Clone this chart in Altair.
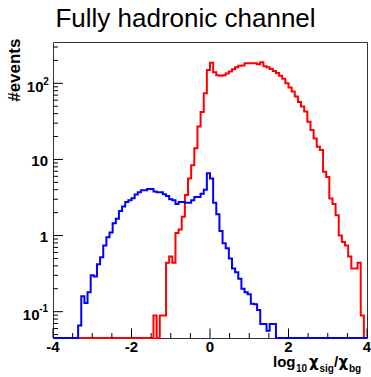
import altair as alt
import numpy as np
import pandas as pd

# ---------------- data ----------------
X_MIN, X_MAX, N_BINS = -4.0, 4.0, 100
Y_MIN, Y_MAX = 0.0451, 349.0

blue_counts = [
    0, 0, 0, 0, 0, 0, 0, 0, 0.066, 0.16,
    0.13, 0.18, 0.30, 0.29, 0.42, 0.52, 0.74, 0.95, 1.1, 1.45,
    1.66, 2.1, 2.4, 2.75, 2.9, 3.1, 3.45, 3.7, 3.95, 3.95,
    4.1, 4.1, 3.8, 3.7, 3.7, 3.5, 3.3, 3.0, 2.9, 2.6,
    2.75, 2.75, 2.7, 2.7, 2.9, 3.2, 3.2, 3.55, 4.0, 6.6,
    5.6, 2.7, 1.9, 1.15, 0.79, 0.68, 0.50, 0.37, 0.33, 0.27,
    0.20, 0.18, 0.17, 0.127, 0.125, 0.105, 0.069, 0.069, 0.056, 0.069,
    0.069, 0, 0, 0, 0, 0, 0, 0, 0, 0,
    0, 0, 0, 0, 0, 0, 0, 0, 0, 0,
    0, 0, 0, 0, 0, 0, 0, 0, 0, 0,
]

red_counts = [
    0, 0, 0, 0, 0, 0, 0, 0, 0, 0,
    0, 0, 0, 0, 0, 0, 0, 0, 0, 0,
    0, 0, 0, 0, 0, 0, 0, 0, 0, 0,
    0, 0, 0.089, 0, 0.089, 0.089, 0.44, 0.53, 0.44, 1.08,
    1.2, 1.76, 3.4, 5.6, 8.4, 14, 27, 42, 74, 150,
    186, 140, 128, 126, 128, 135, 143, 153, 162, 170,
    172, 183, 183, 183, 183, 178, 189, 167, 162, 154,
    145, 137, 126, 115, 100, 88, 78, 67, 57, 49.5,
    42.5, 31.3, 24.3, 18.9, 14.7, 13.3, 6.9, 5.9, 3.07, 2.6,
    1.85, 1.0, 0.82, 0.74, 0.53, 0.37, 0.37, 0.44, 0.089, 0,
]

x_major_ticks = [-4, -2, 0, 2, 4]
x_minor_ticks = [-3.5, -3, -2.5, -1.5, -1, -0.5, 0.5, 1, 1.5, 2.5, 3, 3.5]
x_tick_labels = ["-4", "-2", "0", "2", "4"]

y_major_ticks = [0.1, 1, 10, 100]
y_minor_ticks = [0.05, 0.06, 0.07, 0.08, 0.09,
                 0.2, 0.3, 0.4, 0.5, 0.6, 0.7, 0.8, 0.9,
                 2, 3, 4, 5, 6, 7, 8, 9,
                 20, 30, 40, 50, 60, 70, 80, 90,
                 200, 300]
y_tick_base = ["10", "1", "10", "10"]
y_tick_exp = ["-1", "", "", "2"]

title_text = "Fully hadronic channel"
y_title_text = "#events"

# ---------------- layout ----------------
W, H = 314, 296
PAD = {"left": 53, "top": 42, "right": 4, "bottom": 39}
FONT = "Liberation Sans"
GREEK = "DejaVu Sans"

xscale = alt.Scale(domain=[X_MIN, X_MAX], nice=False, zero=False)
yscale = alt.Scale(type="log", domain=[Y_MIN, Y_MAX], nice=False)

edges = np.round(np.linspace(X_MIN, X_MAX, N_BINS + 1), 4)


def hist_df(counts):
    return pd.DataFrame({"x": edges, "v": list(counts) + [counts[-1]]})


def hist_layer(counts, color):
    return (
        alt.Chart(hist_df(counts))
        .transform_calculate(vp=f"max(datum.v, {Y_MIN})")
        .mark_line(interpolate="step-after", color=color, strokeWidth=2)
        .encode(
            x=alt.X("x:Q", scale=xscale, axis=None),
            y=alt.Y("vp:Q", scale=yscale, axis=None),
        )
    )


def xtick_layer(vals, length):
    return (
        alt.Chart(pd.DataFrame({"t": vals}))
        .mark_rule(color="black", strokeWidth=1)
        .encode(
            x=alt.X("t:Q", scale=xscale, axis=None),
            y=alt.value(H),
            y2=alt.value(H - length),
        )
    )


def ytick_layer(vals, length):
    return (
        alt.Chart(pd.DataFrame({"t": vals}))
        .mark_rule(color="black", strokeWidth=1)
        .encode(
            y=alt.Y("t:Q", scale=yscale, axis=None),
            x=alt.value(0),
            x2=alt.value(length),
        )
    )


def text_layer(txt, x, y, size, weight="bold", align="left", angle=None, font=FONT):
    kw = dict(align=align, baseline="alphabetic", font=font, fontSize=size,
              fontWeight=weight, color="black")
    if angle is not None:
        kw["angle"] = angle
    return (
        alt.Chart(pd.DataFrame({"label": [txt]}))
        .mark_text(**kw)
        .encode(x=alt.value(x), y=alt.value(y), text="label:N")
    )


ylab_df = pd.DataFrame({"v": y_major_ticks, "base": y_tick_base, "exp": y_tick_exp})


def ylab_layer(filt, field, x, dy, size, align):
    return (
        alt.Chart(ylab_df)
        .transform_filter(filt)
        .mark_text(align=align, baseline="alphabetic", dy=dy, font=FONT,
                   fontSize=size, fontWeight="bold", color="black")
        .encode(y=alt.Y("v:Q", scale=yscale, axis=None), x=alt.value(x),
                text=f"{field}:N")
    )


ylabels = [
    ylab_layer("datum.exp == ''", "base", -5, 6.3, 15, "right"),
    ylab_layer("datum.exp == '2'", "base", -9.5, 8.4, 15, "right"),
    ylab_layer("datum.exp == '2'", "exp", -9.8, 1.8, 10, "left"),
    ylab_layer("datum.exp == '-1'", "base", -13.5, 8.3, 15, "right"),
    ylab_layer("datum.exp == '-1'", "exp", -13.8, 0.3, 10, "left"),
]

xlab = (
    alt.Chart(pd.DataFrame({"v": x_major_ticks, "label": x_tick_labels}))
    .mark_text(align="center", baseline="alphabetic", font=FONT,
               fontSize=15, fontWeight="bold", color="black")
    .encode(x=alt.X("v:Q", scale=xscale, axis=None), y=alt.value(309.5), text="label:N")
)

# x-axis title: log_10 chi_sig / chi_bg (sub-scripts as smaller text)
MB, SB = 324.5, 330
xtitle = [
    text_layer("log", 220, MB, 15),
    text_layer("10", 243, SB, 10),
    text_layer("\u03c7", 256, MB, 15, font=GREEK),
    text_layer("sig", 266.5, SB, 10),
    text_layer("/", 281, MB, 15),
    text_layer("\u03c7", 285.5, MB, 15, font=GREEK),
    text_layer("bg", 296, SB, 10),
]

ytitle = text_layer(y_title_text, -33, -3.5, 17, align="right", angle=270)
title = text_layer(title_text, 132.5, -15.3, 26, weight="normal", align="center")

chart = alt.layer(
    hist_layer(red_counts, "#ff0000"),
    hist_layer(blue_counts, "#0000ff"),
    xtick_layer(x_major_ticks, 9.5),
    xtick_layer(x_minor_ticks, 5),
    ytick_layer(y_major_ticks, 10),
    ytick_layer(y_minor_ticks, 5),
    *ylabels,
    xlab,
    *xtitle,
    ytitle,
    title,
).properties(
    width=W,
    height=H,
    padding=PAD,
    autosize=alt.AutoSizeParams(type="none"),
    background="white",
).configure_view(stroke="#333333", strokeWidth=1)

chart.save("out.html", embed_options={"renderer": "svg", "actions": False})
